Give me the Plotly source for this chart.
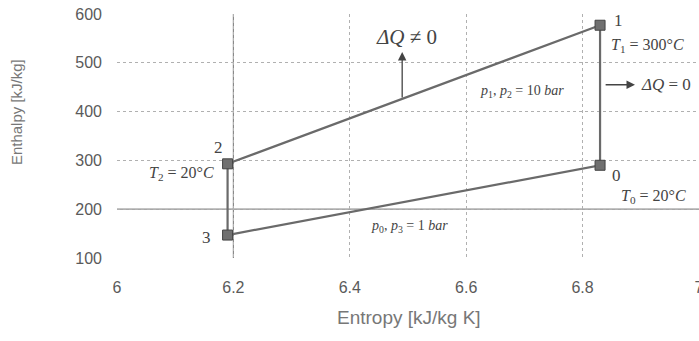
import plotly.graph_objects as go

# Cycle states: 1 -> 2 -> 3 -> 0 -> 1
state_labels = ["1", "2", "3", "0"]
entropy = [6.83, 6.19, 6.19, 6.83]
enthalpy = [577, 293, 147, 290]

x_ticks = [6, 6.2, 6.4, 6.6, 6.8, 7]
x_tick_text = ["6", "6.2", "6.4", "6.6", "6.8", "7"]
y_ticks = [100, 200, 300, 400, 500, 600]

line_x = entropy + [entropy[0]]
line_y = enthalpy + [enthalpy[0]]

fig = go.Figure()
fig.add_trace(go.Scatter(
    x=line_x, y=line_y, mode="lines",
    line=dict(color="#6a6a6a", width=2.2), showlegend=False, hoverinfo="skip"))
fig.add_trace(go.Scatter(
    x=entropy, y=enthalpy, mode="markers",
    marker=dict(symbol="square", size=10, color="#707070",
                line=dict(color="#444", width=1)),
    showlegend=False))

serif = "Liberation Serif"
txt = "#444"

# solid reference lines
fig.add_shape(type="line", x0=6, x1=7, y0=200, y1=200, xref="x", yref="y",
              line=dict(color="#8a8a8a", width=1.2), layer="below")
fig.add_shape(type="line", x0=6.2, x1=6.2, y0=100, y1=600, xref="x", yref="y",
              line=dict(color="#8a8a8a", width=1.2), layer="below")

ann = []
pt_pos = {"1": (6.861, 586), "2": (6.174, 327), "3": (6.153, 141), "0": (6.859, 270)}
for lab in state_labels:
    px, py = pt_pos[lab]
    ann.append(dict(x=px, y=py, text=lab, showarrow=False,
                    font=dict(family=serif, size=17, color=txt)))

ann += [
    dict(x=6.497, y=553, text="<i>ΔQ</i> ≠ 0", showarrow=False,
         font=dict(family=serif, size=21, color=txt)),
    dict(x=6.912, y=536, text="<i>T</i><sub>1</sub> = 300°<i>C</i>", showarrow=False,
         font=dict(family=serif, size=16, color=txt)),
    dict(x=6.897, y=455, text="<i>ΔQ</i> = 0", showarrow=False, xanchor="left",
         font=dict(family=serif, size=17, color=txt)),
    dict(x=6.696, y=442, text="<i>p</i><sub>1</sub>, <i>p</i><sub>2</sub> = 10 <i>bar</i>",
         showarrow=False, font=dict(family=serif, size=14, color=txt)),
    dict(x=6.11, y=274, text="<i>T</i><sub>2</sub> = 20°<i>C</i>", showarrow=False,
         font=dict(family=serif, size=16, color=txt)),
    dict(x=6.921, y=227, text="<i>T</i><sub>0</sub> = 20°<i>C</i>", showarrow=False,
         font=dict(family=serif, size=16, color=txt)),
    dict(x=6.503, y=164, text="<i>p</i><sub>0</sub>, <i>p</i><sub>3</sub> = 1 <i>bar</i>",
         showarrow=False, font=dict(family=serif, size=14, color=txt)),
    dict(x=6.49, y=522, ax=6.49, ay=426, xref="x", yref="y", axref="x", ayref="y",
         text="", showarrow=True, arrowhead=2, arrowsize=1.3, arrowwidth=1.3,
         arrowcolor=txt),
    dict(x=6.89, y=455, ax=6.837, ay=455, xref="x", yref="y", axref="x", ayref="y",
         text="", showarrow=True, arrowhead=2, arrowsize=1.3, arrowwidth=1.3,
         arrowcolor=txt),
    # axis titles
    dict(x=-0.1735, y=0.598, xref="paper", yref="paper", text="Enthalpy [kJ/kg]",
         xanchor="center", yanchor="middle",
         textangle=-90, showarrow=False, font=dict(size=15, color="#777")),
    dict(x=0.502, y=-0.242, xref="paper", yref="paper", text="Entropy [kJ/kg K]",
         xanchor="center", yanchor="middle",
         showarrow=False, font=dict(size=19, color="#777")),
]

fig.update_layout(
    width=699, height=341,
    margin=dict(l=117, r=0, t=14, b=83, autoexpand=False),
    paper_bgcolor="white", plot_bgcolor="white",
    annotations=ann,
    font=dict(family="Liberation Sans", color="#666"),
    xaxis=dict(range=[6, 7], tickvals=x_ticks, ticktext=x_tick_text,
               showgrid=True, gridcolor="#b0b0b0", griddash="dot", gridwidth=1,
               zeroline=False, showline=False, automargin=False,
               tickfont=dict(size=16, color="#5a5a5a"),
               ticks="", ticklabelstandoff=18, ticklabeloverflow="allow"),
    yaxis=dict(range=[100, 600], tickvals=y_ticks,
               showgrid=True, gridcolor="#b0b0b0", griddash="dot", gridwidth=1,
               zeroline=False, showline=False, automargin=False,
               tickfont=dict(size=16, color="#5a5a5a"),
               ticks="", ticklabelstandoff=14, ticklabeloverflow="allow"),
)

fig.write_html("out.html", config={"displayModeBar": False},
               post_script="document.body.style.margin='0';")
